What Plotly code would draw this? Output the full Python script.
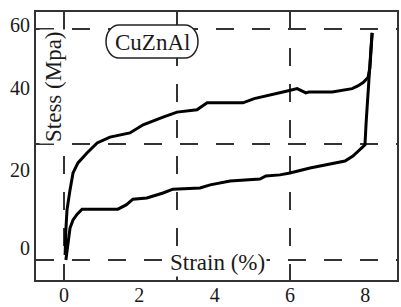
import plotly.graph_objects as go

# ---- data ----
strain_load = [0.05, 0.11, 0.16, 0.24, 0.35, 0.48, 1.43, 1.65, 1.83, 2.20, 2.63, 2.89, 3.61, 3.88,
               4.41, 5.20, 5.36, 5.73, 6.00, 6.53, 7.06, 7.46, 7.67, 7.86, 7.99, 8.02, 8.07, 8.12,
               8.15, 8.18]
stress_load = [0.0, 5.2, 8.3, 10.4, 11.9, 13.2, 13.2, 14.3, 15.8, 16.1, 17.4, 18.4, 18.7, 19.5,
               20.5, 21.0, 21.8, 22.1, 22.6, 23.9, 24.9, 25.7, 27.0, 28.6, 29.9, 35.6, 44.2, 50.1,
               55.1, 59.0]

strain_unload = [8.18, 8.12, 8.07, 7.94, 7.80, 7.65, 7.12, 6.50, 6.42, 6.19, 5.90, 5.37, 5.05,
                 4.75, 3.80, 3.53, 3.00, 2.63, 2.10, 1.75, 1.22, 0.88, 0.61, 0.37, 0.24, 0.16,
                 0.08, 0.05, 0.03]
stress_unload = [59.0, 49.9, 47.4, 46.1, 45.2, 44.5, 43.6, 43.6, 43.4, 44.5, 43.8, 42.6, 41.9,
                 40.8, 40.8, 39.0, 38.4, 37.1, 35.1, 33.0, 31.9, 30.4, 27.8, 25.2, 22.6, 18.2,
                 13.0, 7.8, 1.3]

x_tick_vals = [0, 2, 4, 6, 8]
x_tick_text = ["0", "2", "4", "6", "8"]
y_tick_vals = [3.1, 23.4, 44.7, 61.0]
y_tick_text = ["0", "20", "40", "60"]
x_grid = [0, 3, 6]
y_grid = [0, 30, 60]

INK = "#1a1a1a"
FONT = "Liberation Serif"

fig = go.Figure()
fig.add_trace(go.Scatter(x=strain_load, y=stress_load, mode="lines",
                         line=dict(color="#000000", width=3), hoverinfo="skip"))
fig.add_trace(go.Scatter(x=strain_unload, y=stress_unload, mode="lines",
                         line=dict(color="#000000", width=3), hoverinfo="skip"))

grid = dict(showgrid=True, gridcolor="#333333", gridwidth=1.6, griddash="18px,18px", ticks="")

fig.update_xaxes(range=[-0.743, 8.84], showline=True, mirror=True, linecolor="#333333", linewidth=2,
                 tickmode="array", tickvals=x_tick_vals, ticktext=x_tick_text, ticks="",
                 showgrid=False, zeroline=False, automargin=False, ticklabelstandoff=-4,
                 minor=dict(tickmode="array", tickvals=x_grid, **grid),
                 tickfont=dict(family=FONT, size=20, color=INK))
fig.update_yaxes(range=[-5.2, 64.4], showline=True, mirror=True, linecolor="#333333", linewidth=2,
                 tickmode="array", tickvals=y_tick_vals, ticktext=y_tick_text, ticks="",
                 showgrid=False, zeroline=False, automargin=False,
                 minor=dict(tickmode="array", tickvals=y_grid, **grid),
                 tickfont=dict(family=FONT, size=20, color=INK))

# helpers to place decorations in paper coordinates from pixel positions
L, R, T, B = 36, 397, 12, 280
def px(x):
    return (x - L) / (R - L)
def py(y):
    return (B - y) / (B - T)

# rounded (stadium) box behind "CuZnAl"
x0, x1, y0, y1 = 106, 198, 25, 58
rx, ry, k = 13, 16.5, 0.5523
def pt(x, y):
    return f"{px(x):.5f},{py(y):.5f}"
path = (f"M{pt(x0+rx, y0)} L{pt(x1-rx, y0)} "
        f"C{pt(x1-rx+k*rx, y0)} {pt(x1, y0+ry-k*ry)} {pt(x1, y0+ry)} "
        f"C{pt(x1, y1-ry+k*ry)} {pt(x1-rx+k*rx, y1)} {pt(x1-rx, y1)} "
        f"L{pt(x0+rx, y1)} "
        f"C{pt(x0+rx-k*rx, y1)} {pt(x0, y1-ry+k*ry)} {pt(x0, y1-ry)} "
        f"C{pt(x0, y0+ry-k*ry)} {pt(x0+rx-k*rx, y0)} {pt(x0+rx, y0)} Z")
fig.add_shape(type="path", path=path, xref="paper", yref="paper",
              line=dict(color="#222222", width=1.5), fillcolor="white", layer="above")

fig.add_annotation(text="CuZnAl", x=px(152), y=py(42), xref="paper", yref="paper",
                   showarrow=False, font=dict(family=FONT, size=23, color=INK),
                   xanchor="center", yanchor="middle")
fig.add_annotation(text="Stess (Mpa)", x=px(53), y=py(87), xref="paper", yref="paper",
                   showarrow=False, textangle=-90, bgcolor="white", borderpad=1,
                   font=dict(family=FONT, size=23, color=INK),
                   xanchor="center", yanchor="middle")
fig.add_annotation(text="Strain (%)", x=px(217), y=py(262), xref="paper", yref="paper",
                   showarrow=False, bgcolor="white", borderpad=1,
                   font=dict(family=FONT, size=23, color=INK),
                   xanchor="center", yanchor="middle")

fig.update_layout(width=401, height=307, margin=dict(l=L, r=401 - R, t=T, b=307 - B),
                  paper_bgcolor="white", plot_bgcolor="white", showlegend=False)

fig.write_html("out.html", config={"displayModeBar": False},
               post_script="document.body.style.margin='0';document.body.style.overflow='hidden';")
